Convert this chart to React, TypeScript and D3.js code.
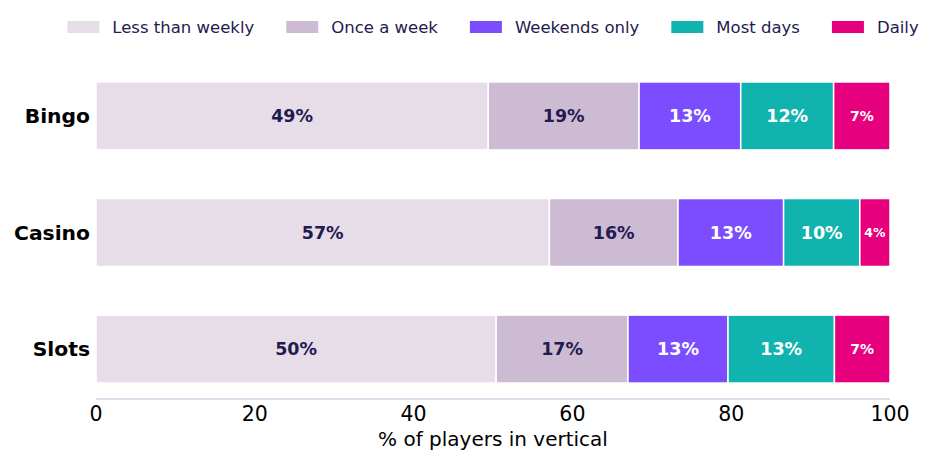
import React, { useEffect, useRef } from "react";
import * as d3 from "d3";

const verticals = ["Bingo", "Casino", "Slots"];
const frequencies = ["Less than weekly", "Once a week", "Weekends only", "Most days", "Daily"];
const lessThanWeekly = [49.4, 57.1, 50.4];
const onceAWeek = [19.0, 16.2, 16.6];
const weekendsOnly = [12.8, 13.3, 12.6];
const mostDays = [11.7, 9.6, 13.4];
const daily = [7.1, 3.8, 7.0];
const xTicks = [0, 20, 40, 60, 80, 100];

const colors = ["#e6dde9", "#cdbbd4", "#7c4dff", "#10b3ae", "#e6007e"];
const textColors = ["#231a4f", "#231a4f", "#ffffff", "#ffffff", "#ffffff"];
const FONT = "DejaVu Sans, sans-serif";

const W = 938;
const H = 463;
const margin = { left: 96, right: 48, top: 66, bottom: 64 };

export default function App() {
  const ref = useRef<SVGSVGElement | null>(null);

  useEffect(() => {
    const svg = d3.select(ref.current);
    svg.selectAll("*").remove();

    const series = [lessThanWeekly, onceAWeek, weekendsOnly, mostDays, daily];
    const rows = verticals.map((v, i) => {
      const r: any = { vertical: v };
      frequencies.forEach((f, k) => (r[f] = series[k][i]));
      return r;
    });
    const stacked = d3.stack<any>().keys(frequencies)(rows);

    const x = d3.scaleLinear().domain([0, 100]).range([margin.left, W - margin.right]);
    const y = d3
      .scaleBand<string>()
      .domain(verticals)
      .range([margin.top, H - margin.bottom])
      .paddingInner(0.417)
      .paddingOuter(0.137);

    // stacked segments
    stacked.forEach((layer, k) => {
      const g = svg.append("g");
      g.selectAll("rect")
        .data(layer)
        .join("rect")
        .attr("x", (d) => x(d[0]))
        .attr("y", (d) => y(d.data.vertical)!)
        .attr("width", (d) => x(d[1]) - x(d[0]))
        .attr("height", y.bandwidth())
        .attr("fill", colors[k])
        .attr("stroke", "#ffffff")
        .attr("stroke-width", 1.5);

      g.selectAll("text")
        .data(layer)
        .join("text")
        .attr("x", (d) => (x(d[0]) + x(d[1])) / 2)
        .attr("y", (d) => y(d.data.vertical)! + y.bandwidth() / 2)
        .attr("text-anchor", "middle")
        .attr("dominant-baseline", "central")
        .attr("font-family", FONT)
        .attr("font-weight", "bold")
        .attr("font-size", (d) => {
          const w = x(d[1]) - x(d[0]);
          return w < 40 ? 12.5 : w < 70 ? 14 : 17.5;
        })
        .attr("fill", textColors[k])
        .text((d) => `${Math.round(d[1] - d[0])}%`);
    });

    // category labels
    svg
      .append("g")
      .selectAll("text")
      .data(verticals)
      .join("text")
      .attr("x", margin.left - 6)
      .attr("y", (d) => y(d)! + y.bandwidth() / 2)
      .attr("text-anchor", "end")
      .attr("dominant-baseline", "central")
      .attr("font-family", FONT)
      .attr("font-weight", "bold")
      .attr("font-size", 20.3)
      .attr("fill", "#000")
      .text((d) => d);

    // x axis
    const axisY = H - margin.bottom;
    svg
      .append("line")
      .attr("x1", x(0))
      .attr("x2", x(100))
      .attr("y1", axisY)
      .attr("y2", axisY)
      .attr("stroke", "#d9d0e3")
      .attr("stroke-width", 1.5);

    svg
      .append("g")
      .selectAll("text")
      .data(xTicks)
      .join("text")
      .attr("x", (d) => x(d))
      .attr("y", axisY + 22)
      .attr("text-anchor", "middle")
      .attr("font-family", FONT)
      .attr("font-size", 20.5)
      .attr("fill", "#000")
      .text((d) => String(d));

    svg
      .append("text")
      .attr("x", (x(0) + x(100)) / 2)
      .attr("y", axisY + 47)
      .attr("text-anchor", "middle")
      .attr("font-family", FONT)
      .attr("font-size", 20)
      .attr("fill", "#000")
      .text("% of players in vertical");

    // legend, centred over the plot area
    const legend = svg.append("g");
    let cursor = 0;
    frequencies.forEach((f, k) => {
      const item = legend.append("g").attr("transform", `translate(${cursor},0)`);
      item.append("rect").attr("x", 0).attr("y", -6).attr("width", 32).attr("height", 12).attr("fill", colors[k]);
      const t = item
        .append("text")
        .attr("x", 45)
        .attr("y", 0)
        .attr("dominant-baseline", "central")
        .attr("font-family", FONT)
        .attr("font-size", 16.5)
        .attr("fill", "#231a4f")
        .text(f);
      const tw = (t.node() as SVGTextElement).getComputedTextLength();
      cursor += 45 + tw + (k < frequencies.length - 1 ? 32 : 0);
    });
    const mid = (x(0) + x(100)) / 2;
    legend.attr("transform", `translate(${mid - cursor / 2},27)`);
  }, []);

  return (
    <svg
      ref={ref}
      width={W}
      height={H}
      style={{ display: "block", position: "absolute", left: 0, top: 0 }}
    />
  );
}
